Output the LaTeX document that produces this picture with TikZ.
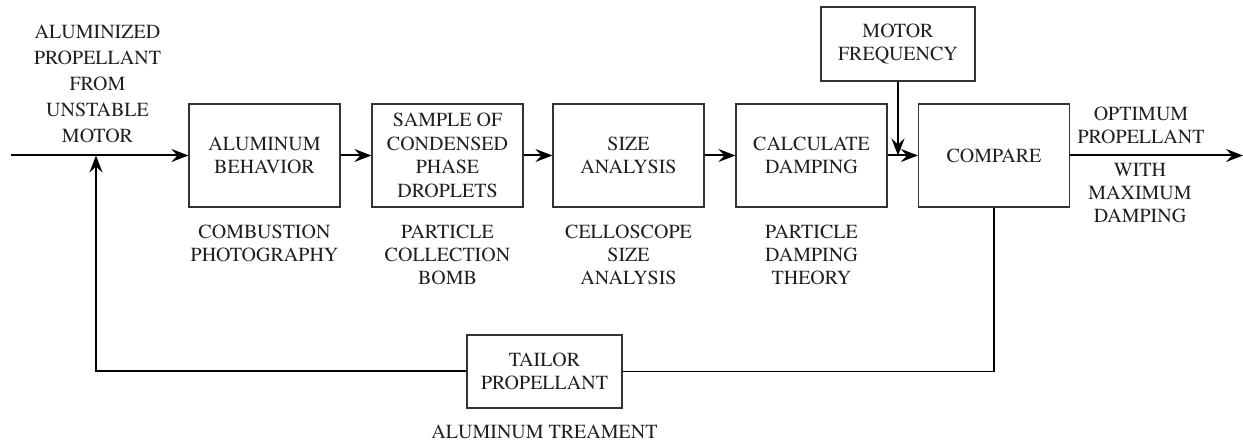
\documentclass[tikz,border=0pt]{standalone}
\usepackage[T1]{fontenc}
\usepackage{mathptmx}
\usetikzlibrary{arrows.meta,positioning}

\tikzset{
  block/.style={draw=black!80, line width=0.6pt, minimum width=75.5pt,
    minimum height=51.5pt, align=center, inner sep=1pt,
    font=\rmfamily\fontsize{10}{11.8}\selectfont},
  note/.style={align=center, inner sep=0pt, font=\rmfamily\fontsize{10}{11.5}\selectfont},
  flow/.style={line width=1pt, -{Stealth[length=8.5pt,width=6.5pt,inset=3pt]}},
  link/.style={line width=0.8pt}
}

\begin{document}
\begin{tikzpicture}[x=0.5pt,y=-0.5pt, text=black!88]
    \useasboundingbox (0,0) rectangle (1243,442);

    % process chain
    \node[block] (alum)    at (264.5,155.5) {ALUMINUM\\BEHAVIOR};
    \node[block] (sample)  at (447.5,155.5) {SAMPLE OF\\CONDENSED\\PHASE\\DROPLETS};
    \node[block] (size)    at (628.5,155.5) {SIZE\\ANALYSIS};
    \node[block] (calc)    at (811.5,155.5) {CALCULATE\\DAMPING};
    \node[block] (compare) at (994,155.5)   {COMPARE};
    \node[block, minimum width=77pt, minimum height=37pt] (motor) at (898,44) {MOTOR\\FREQUENCY};
    \node[block, minimum width=77.5pt, minimum height=36.5pt] (tailor) at (544.5,371.5) {TAILOR\\PROPELLANT};

    % methods under the boxes
    \node[note, below=8.5pt of alum]   (photo)   {COMBUSTION\\PHOTOGRAPHY};
    \node[note, below=8.5pt of sample] (bomb)    {PARTICLE\\COLLECTION\\BOMB};
    \node[note, below=8.5pt of size]   (cello)   {CELLOSCOPE\\SIZE\\ANALYSIS};
    \node[note, below=8.5pt of calc]   (theory)  {PARTICLE\\DAMPING\\THEORY};
    \node[note, below=8pt of tailor]   (treat)   {ALUMINUM TREAMENT};

    % input and output
    \node[note, font=\rmfamily\fontsize{10}{13}\selectfont] (source) at (97.5,84)
        {ALUMINIZED\\PROPELLANT\\FROM\\UNSTABLE\\MOTOR};
    \node[note] (optimum) at (1141,125)   {OPTIMUM\\PROPELLANT};
    \node[note] (maxdamp) at (1140,193.5) {WITH\\MAXIMUM\\DAMPING};

    \coordinate (in)  at (11,155.5);
    \coordinate (ret) at (96,155.5);
    \coordinate (out) at (1243,155.5);

    \draw[flow] (in) -- (alum);
    \draw[flow] (alum) -- (sample);
    \draw[flow] (sample) -- (size);
    \draw[flow] (size) -- (calc);
    \draw[flow] (calc) -- (compare);
    \draw[flow] (compare) -- (out);
    \draw[flow] (motor) -- (motor |- compare.west);

    % feedback loop
    \draw[link] (compare.south) |- (tailor.east);
    \draw[flow] (tailor.west) -| (ret);
\end{tikzpicture}
\end{document}
